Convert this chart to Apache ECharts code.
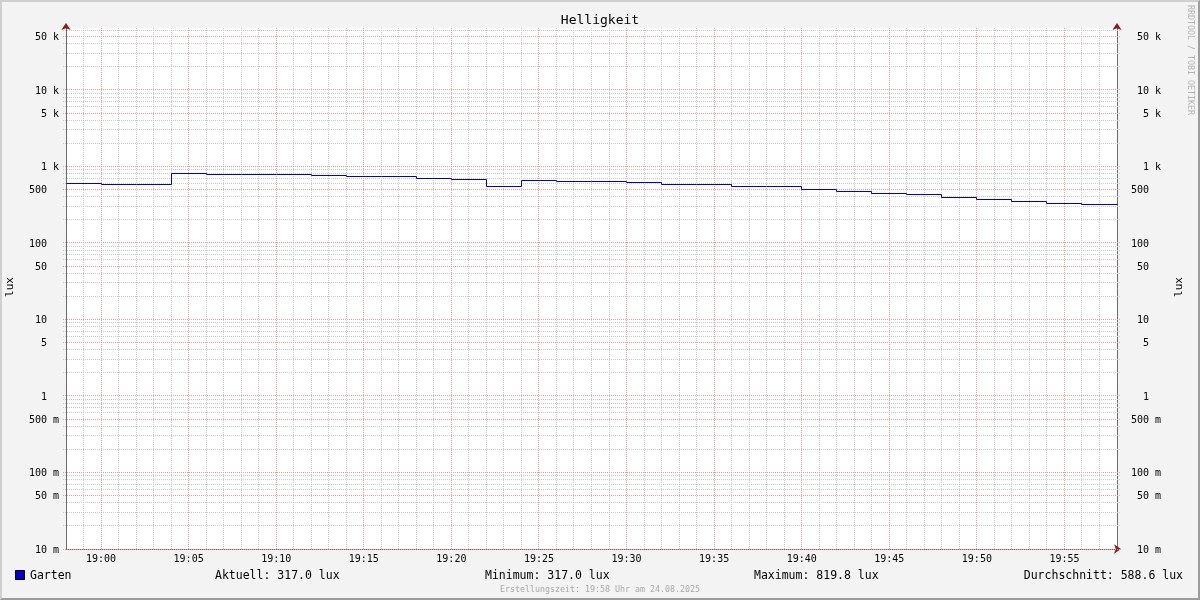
<!DOCTYPE html>
<html>
<head>
<meta charset="utf-8">
<script src="https://cdn.jsdelivr.net/npm/echarts@6/dist/echarts.min.js"></script>
<style>
html,body{margin:0;padding:0;background:#f3f3f3;}
#chart{position:absolute;left:0;top:0;width:1200px;height:600px;background:#f3f3f3;}
#frame{position:absolute;left:0;top:0;width:1200px;height:600px;box-sizing:border-box;
  border-top:2px solid #cfcfcf;border-left:2px solid #cfcfcf;border-right:2px solid #9c9c9c;border-bottom:2px solid #9c9c9c;pointer-events:none;}
</style>
</head>
<body>
<div id="chart"></div>
<div id="frame"></div>
<script>
// ---- data ----
const startTime = '18:58';
const endTime = '19:58';
const times = ['18:58','19:00','19:02','19:04','19:06','19:08','19:10','19:12','19:14','19:16',
               '19:18','19:20','19:22','19:24','19:26','19:28','19:30','19:32','19:34','19:36',
               '19:38','19:40','19:42','19:44','19:46','19:48','19:50','19:52','19:54','19:56'];
const values = [603, 585, 585, 819.8, 790, 790, 790, 752, 729, 729,
                701, 680, 540, 662, 646, 627, 609, 579, 579, 545,
                545, 493, 464, 450, 428, 399, 365, 344, 333, 317];
const seriesName = 'Garten';
const yMajorValues = [0.01, 0.05, 0.1, 0.5, 1, 5, 10, 50, 100, 500, 1000, 5000, 10000, 50000];
const yMajorLabels = ['10 m','50 m','100 m','500 m','1  ','5  ','10  ','50  ','100  ','500  ','1 k','5 k','10 k','50 k'];
const xMajorLabels = ['19:00','19:05','19:10','19:15','19:20','19:25','19:30','19:35','19:40','19:45','19:50','19:55'];
const yMin = 0.01, yMax = 64600;
const statTexts = ['Aktuell: 317.0 lux', 'Minimum: 317.0 lux', 'Maximum: 819.8 lux', 'Durchschnitt: 588.6 lux'];
const titleText = 'Helligkeit';
const unitText = 'lux';
const footerText = 'Erstellungszeit: 19:58 Uhr am 24.08.2025';
const watermark = 'RRDTOOL / TOBI OETIKER';

// ---- helpers ----
function ts(hhmm){ const p = hhmm.split(':'); return new Date(2025, 7, 24, +p[0], +p[1]).getTime(); }
const FONT = 'DejaVu Sans Mono';
const LINE_COLOR = '#0000cc';
const MINOR = '#cacaca';
const MAJOR = '#e6a0a0';
const AXIS = '#6a6a6a';
const ARROW = '#8b1a1a';

// step segments: [t, v, tNext, vNext]
const stepData = times.map((t, i) => {
  const nextT = i + 1 < times.length ? times[i + 1] : endTime;
  const nextV = i + 1 < values.length ? values[i + 1] : values[i];
  return [ts(t), values[i], ts(nextT), nextV];
});

// grid line positions
const vGrid = [];
for (let m = 1; m < 60; m++) {
  const t = ts(startTime) + m * 60000;
  vGrid.push([t, 1, (58 + m) % 5 === 0 ? 1 : 0]);
}
const xMajor = vGrid.filter(d => d[2] === 1).map(d => d[0]);
const hGrid = [];
for (let e = -2; e <= 4; e++) {
  for (const k of [1,2,3,4,5,6,7,8,9]) {
    const v = k * Math.pow(10, e);
    if (v > yMin * 0.999 && v < yMax) hGrid.push([ts(startTime), v, (k === 1 || k === 5) ? 1 : 0]);
  }
}

const noSym = ['none', 'none'];
const lblBase = { show: true, color: '#000', fontFamily: FONT, fontSize: 10 };
const hidden = { color: 'rgba(0,0,0,0)', width: 0 };

function renderV(params, api) {
  const cs = params.coordSys;
  const major = api.value(2) === 1;
  const x = Math.floor(api.coord([api.value(0), api.value(1)])[0]) + 0.5;
  return { type: 'line', silent: true, z2: major ? 2 : 1,
    shape: { x1: x, y1: cs.y, x2: x, y2: cs.y + cs.height },
    style: { stroke: major ? MAJOR : MINOR, lineWidth: 1, lineDash: [1, 1] } };
}
function renderH(params, api) {
  const cs = params.coordSys;
  const major = api.value(2) === 1;
  const y = Math.floor(api.coord([api.value(0), api.value(1)])[1]) + 0.5;
  if (y < cs.y || y > cs.y + cs.height + 1) return null;
  return { type: 'line', silent: true, z2: major ? 2 : 1,
    shape: { x1: cs.x - 3, y1: y, x2: cs.x + cs.width + 3, y2: y },
    style: { stroke: major ? MAJOR : MINOR, lineWidth: 1, lineDash: [1, 1] } };
}
function renderStep(params, api) {
  const p0 = api.coord([api.value(0), api.value(1)]);
  const p1 = api.coord([api.value(2), api.value(3)]);
  const x0 = Math.floor(p0[0]) + 0.5, x1 = Math.floor(p1[0]) + 0.5;
  const y0 = Math.floor(p0[1]) + 0.5, y1 = Math.floor(p1[1]) + 0.5;
  return { type: 'polyline', silent: true,
    shape: { points: [[x0, y0], [x1, y0], [x1, y1]] },
    style: { stroke: LINE_COLOR, lineWidth: 1, fill: null } };
}

const option = {
  animation: false,
  backgroundColor: '#f3f3f3',
  textStyle: { fontFamily: FONT },
  grid: { left: 66, right: 83, top: 28, bottom: 51, show: true, backgroundColor: '#ffffff', borderWidth: 0 },
  xAxis: [
    { type: 'time', min: ts(startTime), max: ts(endTime),
      axisLine: { show: true, onZero: false, lineStyle: { color: AXIS, width: 1 } },
      axisTick: { show: false }, axisLabel: { show: false }, splitLine: { show: false } },
    { type: 'time', min: ts(startTime), max: ts(endTime), position: 'bottom',
      axisLine: { show: true, onZero: false, symbol: ['none', 'arrow'], symbolSize: [7, 7], symbolOffset: [0, 4],
                  lineStyle: { color: ARROW, width: 0 } },
      axisTick: { show: false }, axisLabel: { show: false }, splitLine: { show: false } }
  ],
  yAxis: [
    { type: 'log', logBase: 10, min: yMin, max: yMax, position: 'left',
      axisLine: { show: true, lineStyle: { color: AXIS, width: 1 } },
      axisTick: { show: false }, axisLabel: { show: false }, splitLine: { show: false } },
    { type: 'log', logBase: 10, min: yMin, max: yMax, position: 'right',
      axisLine: { show: true, lineStyle: { color: AXIS, width: 1 } },
      axisTick: { show: false }, axisLabel: { show: false }, splitLine: { show: false } },
    { type: 'log', logBase: 10, min: yMin, max: yMax, position: 'left',
      axisLine: { show: true, symbol: ['none', 'arrow'], symbolSize: [7, 7], symbolOffset: [0, 5],
                  lineStyle: { color: ARROW, width: 0 } },
      axisTick: { show: false }, axisLabel: { show: false }, splitLine: { show: false } },
    { type: 'log', logBase: 10, min: yMin, max: yMax, position: 'right',
      axisLine: { show: true, symbol: ['none', 'arrow'], symbolSize: [7, 7], symbolOffset: [0, 5],
                  lineStyle: { color: ARROW, width: 0 } },
      axisTick: { show: false }, axisLabel: { show: false }, splitLine: { show: false } }
  ],
  series: [
    { type: 'custom', renderItem: renderV, data: vGrid, z: 1, silent: true, clip: false,
      encode: { x: 0, y: 1 } },
    { type: 'custom', renderItem: renderH, data: hGrid, z: 1, silent: true, clip: false,
      encode: { x: 0, y: 1 } },
    { // left / bottom labels
      type: 'line', data: [], z: 2, silent: true,
      markLine: { silent: true, symbol: noSym, animation: false, lineStyle: hidden,
        data: yMajorValues.map((v, i) => ({ yAxis: v,
                 label: Object.assign({}, lblBase, { position: 'start', formatter: yMajorLabels[i], align: 'right',
                          verticalAlign: 'middle', distance: 7, offset: [0, 1] }) }))
          .concat(xMajor.map((v, i) => ({ xAxis: v,
                 label: Object.assign({}, lblBase, { position: 'start', formatter: xMajorLabels[i], align: 'center',
                          verticalAlign: 'top', distance: 5 }) }))) }
    },
    { // right labels
      type: 'line', data: [], z: 2, silent: true,
      markLine: { silent: true, symbol: noSym, animation: false, lineStyle: hidden,
        data: yMajorValues.map((v, i) => ({ yAxis: v,
                 label: Object.assign({}, lblBase, { position: 'end', formatter: yMajorLabels[i], align: 'right',
                          verticalAlign: 'middle', distance: 44, offset: [0, 1] }) })) }
    },
    { name: seriesName, type: 'custom', renderItem: renderStep, data: stepData, z: 5, silent: true,
      encode: { x: [0, 2], y: [1, 3] } }
  ],
  graphic: [
    { type: 'text', x: 600, y: 21, style: { text: titleText, font: '13px "DejaVu Sans Mono"', fill: '#000', align: 'center', verticalAlign: 'middle' } },
    { type: 'text', x: 10, y: 287, rotation: Math.PI / 2, style: { text: unitText, font: '11px "DejaVu Sans Mono"', fill: '#000', align: 'center', verticalAlign: 'middle' } },
    { type: 'text', x: 1179, y: 287, rotation: Math.PI / 2, style: { text: unitText, font: '11px "DejaVu Sans Mono"', fill: '#000', align: 'center', verticalAlign: 'middle' } },
    { type: 'text', x: 1190, y: 5, rotation: -Math.PI / 2, style: { text: watermark, font: '8.3px "DejaVu Sans Mono"', fill: '#b4b4b4', align: 'left', verticalAlign: 'middle' } },
    { type: 'rect', shape: { x: 15.5, y: 570.5, width: 9, height: 9 }, style: { fill: LINE_COLOR, stroke: '#000', lineWidth: 1 } },
    { type: 'text', x: 30, y: 576, style: { text: seriesName, font: '11.5px "DejaVu Sans Mono"', fill: '#000', align: 'left', verticalAlign: 'middle' } },
    { type: 'text', x: 215, y: 576, style: { text: statTexts[0], font: '11.5px "DejaVu Sans Mono"', fill: '#000', align: 'left', verticalAlign: 'middle' } },
    { type: 'text', x: 485, y: 576, style: { text: statTexts[1], font: '11.5px "DejaVu Sans Mono"', fill: '#000', align: 'left', verticalAlign: 'middle' } },
    { type: 'text', x: 754, y: 576, style: { text: statTexts[2], font: '11.5px "DejaVu Sans Mono"', fill: '#000', align: 'left', verticalAlign: 'middle' } },
    { type: 'text', x: 1183, y: 576, style: { text: statTexts[3], font: '11.5px "DejaVu Sans Mono"', fill: '#000', align: 'right', verticalAlign: 'middle' } },
    { type: 'text', x: 600, y: 590, style: { text: footerText, font: '8.3px "DejaVu Sans Mono"', fill: '#a8a8a8', align: 'center', verticalAlign: 'middle' } }
  ]
};

const chart = echarts.init(document.getElementById('chart'), null, { renderer: 'canvas' });
chart.setOption(option);
</script>
</body>
</html>
